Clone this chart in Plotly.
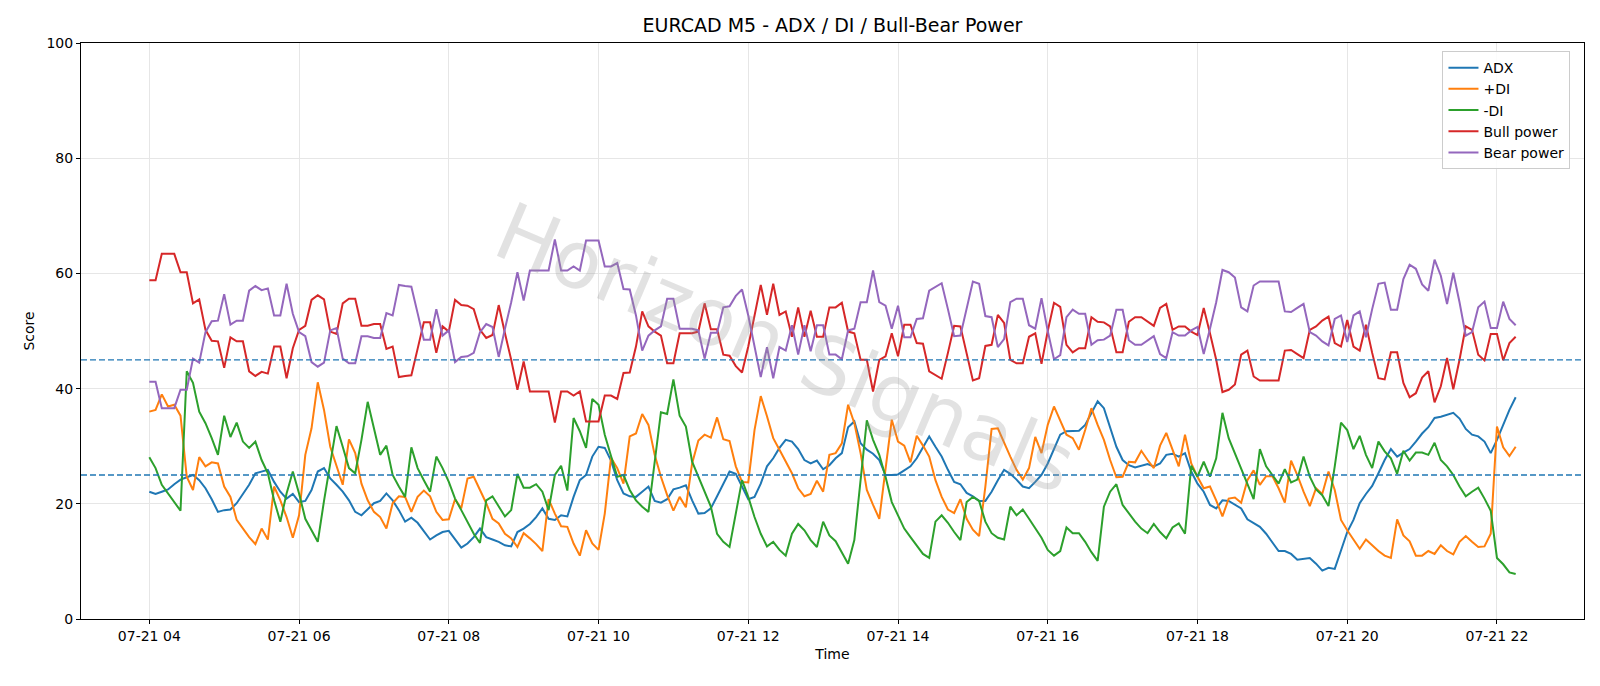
import pandas as pd
import plotly.graph_objects as go

TITLE = "EURCAD M5 - ADX / DI / Bull-Bear Power"
START = "2025-07-21 04:00"
N_BARS = 220
times = pd.date_range(START, periods=N_BARS, freq="5min")

adx = [22.1, 21.7, 22.1, 22.5, 23.4, 24.2, 24.6, 25.0, 24.1, 22.7,
       20.8, 18.6, 18.9, 19.0, 20.1, 21.7, 23.3, 25.3, 25.6, 25.9,
       23.8, 22.1, 20.9, 21.7, 20.3, 20.5, 22.4, 25.6, 26.2, 24.4,
       23.3, 22.1, 20.6, 18.6, 18.0, 19.0, 20.1, 20.5, 21.8, 20.6,
       18.9, 16.9, 17.6, 16.7, 15.3, 13.8, 14.5, 15.1, 15.3, 13.9,
       12.4, 13.1, 14.2, 15.7, 14.2, 13.8, 13.4, 12.8, 12.6, 15.1,
       15.7, 16.5, 17.7, 19.2, 17.4, 17.2, 18.0, 17.8, 21.2, 24.1,
       25.0, 28.2, 29.9, 29.7, 27.5, 24.1, 21.8, 21.3, 21.2, 22.1,
       23.0, 20.5, 20.2, 20.8, 22.5, 22.8, 23.2, 20.6, 18.3, 18.4,
       19.2, 21.3, 23.5, 25.6, 25.2, 23.0, 20.8, 21.2, 23.5, 26.5,
       27.9, 29.7, 31.1, 30.8, 29.5, 27.6, 27.0, 27.5, 26.0, 26.7,
       27.9, 28.8, 33.3, 34.3, 30.5, 29.4, 28.7, 27.6, 25.0, 25.0,
       25.1, 25.8, 26.5, 27.9, 29.9, 31.7, 29.9, 28.2, 25.9, 23.8,
       23.4, 21.9, 21.3, 20.5, 20.5, 22.1, 24.1, 25.9, 25.2, 24.2,
       23.0, 22.7, 23.8, 25.0, 27.0, 29.6, 32.0, 32.6, 32.7, 32.7,
       33.7, 35.8, 37.8, 36.6, 33.4, 29.9, 27.6, 26.7, 26.3, 26.6,
       26.9, 26.5, 27.0, 28.5, 28.7, 28.2, 28.8, 25.6, 23.5, 22.1,
       19.8, 19.2, 20.6, 20.5, 19.9, 19.2, 17.3, 16.6, 16.0, 14.8,
       13.4, 11.8, 11.8, 11.3, 10.3, 10.5, 10.6, 9.6, 8.4, 8.9,
       8.7, 11.9, 15.1, 17.2, 20.1, 21.7, 23.1, 25.3, 27.6, 29.5,
       28.2, 28.9, 29.5, 30.8, 32.2, 33.3, 34.9, 35.1, 35.5, 35.8,
       34.8, 33.0, 32.0, 31.7, 30.8, 28.8, 31.1, 33.7, 36.3, 38.5]

plus_di = [36.0, 36.3, 39.0, 36.9, 37.2, 35.3, 24.7, 22.4, 28.1, 26.5,
           27.2, 27.0, 23.0, 21.2, 17.2, 15.7, 14.2, 13.0, 15.7, 13.8,
           23.0, 20.6, 17.7, 14.1, 18.0, 28.5, 33.1, 41.1, 36.3, 29.9,
           26.5, 23.3, 31.2, 28.8, 23.5, 20.6, 18.6, 17.7, 15.7, 20.1,
           21.3, 21.2, 18.6, 21.2, 22.3, 21.3, 18.6, 17.2, 17.3, 20.8,
           19.2, 24.4, 24.7, 22.4, 20.1, 17.4, 16.6, 14.8, 14.0, 12.5,
           14.9, 14.0, 13.0, 11.8, 20.8, 18.3, 16.1, 16.0, 13.1, 11.0,
           15.4, 13.1, 12.0, 18.3, 28.0, 26.2, 23.5, 31.7, 32.2, 35.6,
           33.7, 28.5, 24.7, 21.5, 18.8, 21.2, 19.4, 27.0, 31.0, 32.0,
           31.5, 35.0, 31.2, 30.9, 26.5, 23.8, 23.7, 32.8, 38.7, 35.2,
           31.4, 29.4, 27.3, 25.3, 22.7, 21.3, 21.7, 24.0, 22.1, 28.5,
           28.8, 30.5, 37.2, 34.0, 28.8, 22.4, 19.8, 17.4, 26.0, 34.6,
           30.8, 30.1, 27.2, 31.8, 30.1, 28.2, 24.1, 21.2, 19.0, 18.4,
           20.8, 17.4, 15.5, 14.4, 23.0, 33.0, 33.1, 30.5, 28.2, 25.9,
           24.2, 26.2, 31.6, 28.8, 33.7, 36.9, 34.3, 32.0, 31.4, 29.4,
           32.8, 36.6, 33.7, 31.1, 27.6, 24.6, 24.7, 27.3, 27.2, 29.2,
           27.6, 26.2, 30.1, 32.3, 29.4, 26.5, 32.0, 27.0, 24.7, 22.7,
           23.0, 20.6, 17.8, 20.9, 21.1, 20.2, 24.1, 25.8, 23.3, 24.8,
           24.8, 22.7, 20.2, 27.5, 25.0, 22.1, 19.6, 22.7, 21.7, 25.6,
           22.4, 17.2, 15.4, 13.8, 12.2, 13.8, 12.8, 11.8, 11.0, 10.6,
           17.3, 14.5, 13.5, 11.0, 11.0, 11.8, 11.3, 12.8, 11.8, 11.2,
           13.4, 14.4, 13.4, 12.5, 12.6, 14.8, 33.4, 29.8, 28.3, 29.9]

minus_di = [28.1, 26.2, 23.3, 21.8, 20.1, 18.8, 43.0, 41.0, 36.0, 34.0,
            31.4, 28.5, 35.3, 31.6, 34.1, 30.8, 29.7, 30.8, 27.6, 25.3,
            20.6, 16.9, 21.8, 25.6, 21.8, 17.4, 15.4, 13.4, 20.5, 27.0,
            33.5, 29.9, 26.2, 25.3, 31.1, 37.7, 33.1, 28.5, 30.1, 25.0,
            23.0, 21.2, 29.8, 26.2, 24.1, 22.1, 28.2, 26.2, 23.8, 20.9,
            18.9, 16.9, 14.8, 13.2, 20.6, 21.3, 19.5, 17.8, 18.9, 25.2,
            22.8, 22.8, 23.4, 22.1, 18.9, 25.0, 26.6, 22.3, 34.9, 32.6,
            29.7, 38.2, 37.2, 32.0, 28.3, 24.7, 25.0, 22.4, 20.6, 19.5,
            18.6, 27.5, 35.9, 35.6, 41.6, 35.3, 33.4, 27.3, 24.7, 22.4,
            19.5, 14.8, 13.4, 12.5, 18.3, 24.1, 21.2, 17.7, 14.8, 12.6,
            13.4, 12.0, 11.0, 14.8, 16.5, 15.4, 13.7, 12.5, 16.9, 14.5,
            13.5, 11.6, 9.6, 13.7, 24.0, 34.5, 31.1, 28.5, 24.7, 20.3,
            18.0, 15.7, 14.2, 12.8, 11.3, 10.6, 16.9, 18.0, 16.7, 15.1,
            13.7, 20.3, 21.2, 20.5, 16.9, 14.9, 14.1, 13.8, 19.5, 18.0,
            19.0, 17.4, 15.7, 14.1, 12.0, 11.0, 11.8, 15.9, 14.9, 14.9,
            13.4, 11.6, 10.1, 19.5, 22.1, 23.4, 19.8, 18.3, 16.9, 15.7,
            14.9, 16.5, 15.1, 14.0, 15.9, 16.6, 14.8, 26.6, 24.7, 27.3,
            24.7, 27.9, 35.8, 31.4, 28.8, 26.2, 23.5, 20.8, 29.5, 26.5,
            25.0, 23.5, 26.0, 23.7, 24.2, 28.2, 24.7, 22.5, 21.5, 19.6,
            26.5, 34.1, 32.8, 29.5, 31.8, 28.5, 26.2, 30.8, 29.1, 27.9,
            25.2, 29.2, 27.5, 28.9, 28.9, 28.5, 30.6, 27.6, 26.5, 25.0,
            23.0, 21.3, 22.1, 22.8, 20.9, 18.8, 10.6, 9.5, 8.1, 7.8]

bull_power = [58.8, 58.8, 63.4, 63.4, 63.4, 60.2, 60.2, 54.8, 55.5, 50.2,
              48.3, 48.2, 43.6, 48.9, 48.2, 48.2, 43.0, 42.2, 42.9, 42.6,
              47.3, 47.3, 41.8, 47.0, 50.2, 50.9, 55.4, 56.2, 55.5, 49.9,
              49.5, 54.8, 55.6, 55.6, 50.9, 50.9, 51.2, 51.2, 46.9, 47.3,
              42.0, 42.2, 42.3, 46.9, 51.5, 51.5, 46.2, 50.8, 49.9, 55.4,
              54.5, 54.4, 53.8, 50.2, 48.8, 49.3, 54.5, 49.6, 45.0, 39.8,
              44.7, 39.5, 39.5, 39.5, 39.5, 34.1, 39.5, 39.5, 38.8, 39.5,
              34.3, 34.3, 34.3, 38.8, 38.8, 38.2, 42.7, 42.8, 47.3, 53.4,
              50.8, 49.9, 49.2, 44.4, 44.4, 49.6, 49.6, 49.6, 49.9, 54.8,
              50.3, 50.3, 45.9, 45.7, 43.9, 42.8, 47.3, 52.5, 58.0, 52.8,
              58.2, 52.8, 53.4, 49.0, 54.1, 49.0, 53.5, 49.0, 49.0, 54.1,
              54.1, 54.9, 49.9, 49.6, 45.0, 45.0, 39.5, 45.0, 45.6, 49.6,
              45.6, 51.1, 51.1, 47.9, 47.8, 43.0, 42.4, 41.7, 46.2, 50.9,
              50.8, 46.2, 41.4, 41.8, 47.4, 47.6, 52.8, 51.4, 45.0, 44.4,
              44.4, 49.0, 49.6, 44.3, 50.0, 54.9, 54.2, 47.6, 46.3, 47.0,
              47.0, 52.4, 51.6, 51.5, 50.8, 46.3, 46.3, 51.6, 52.4, 52.4,
              51.6, 50.9, 54.0, 54.7, 50.2, 50.8, 50.8, 49.9, 49.3, 54.0,
              49.6, 45.0, 39.4, 39.8, 40.7, 45.9, 46.6, 42.1, 41.4, 41.4,
              41.4, 41.4, 46.6, 46.7, 46.0, 45.3, 50.2, 50.8, 51.8, 52.5,
              47.9, 47.3, 51.9, 47.3, 46.6, 51.1, 46.2, 41.8, 41.6, 46.3,
              46.3, 41.0, 38.5, 39.2, 41.9, 43.0, 37.6, 40.4, 45.3, 39.9,
              45.0, 50.8, 50.2, 45.9, 44.9, 49.5, 49.5, 44.9, 47.9, 49.0]

bear_power = [41.2, 41.2, 36.6, 36.6, 36.6, 39.8, 39.8, 45.2, 44.5, 49.8,
              51.7, 51.8, 56.4, 51.1, 51.8, 51.8, 57.0, 57.8, 57.1, 57.4,
              52.7, 52.7, 58.2, 53.0, 49.8, 49.1, 44.6, 43.8, 44.5, 50.1,
              50.5, 45.2, 44.4, 44.4, 49.1, 49.1, 48.8, 48.8, 53.1, 52.7,
              58.0, 57.8, 57.7, 53.1, 48.5, 48.5, 53.8, 49.2, 50.1, 44.6,
              45.5, 45.6, 46.2, 49.8, 51.2, 50.7, 45.5, 50.4, 55.0, 60.2,
              55.3, 60.5, 60.5, 60.5, 60.5, 65.9, 60.5, 60.5, 61.2, 60.5,
              65.7, 65.7, 65.7, 61.2, 61.2, 61.8, 57.3, 57.2, 52.7, 46.6,
              49.2, 50.1, 50.8, 55.6, 55.6, 50.4, 50.4, 50.4, 50.1, 45.2,
              49.7, 49.7, 54.1, 54.3, 56.1, 57.2, 52.7, 47.5, 42.0, 47.2,
              41.8, 47.2, 46.6, 51.0, 45.9, 51.0, 46.5, 51.0, 51.0, 45.9,
              45.9, 45.1, 50.1, 50.4, 55.0, 55.0, 60.5, 55.0, 54.4, 50.4,
              54.4, 48.9, 48.9, 52.1, 52.2, 57.0, 57.6, 58.3, 53.8, 49.1,
              49.2, 53.8, 58.6, 58.2, 52.6, 52.4, 47.2, 48.6, 55.0, 55.6,
              55.6, 51.0, 50.4, 55.7, 50.0, 45.1, 45.8, 52.4, 53.7, 53.0,
              53.0, 47.6, 48.4, 48.5, 49.2, 53.7, 53.7, 48.4, 47.6, 47.6,
              48.4, 49.1, 46.0, 45.3, 49.8, 49.2, 49.2, 50.1, 50.7, 46.0,
              50.4, 55.0, 60.6, 60.2, 59.3, 54.1, 53.4, 57.9, 58.6, 58.6,
              58.6, 58.6, 53.4, 53.3, 54.0, 54.7, 49.8, 49.2, 48.2, 47.5,
              52.1, 52.7, 48.1, 52.7, 53.4, 48.9, 53.8, 58.2, 58.4, 53.7,
              53.7, 59.0, 61.5, 60.8, 58.1, 57.0, 62.4, 59.6, 54.7, 60.1,
              55.0, 49.2, 49.8, 54.1, 55.1, 50.5, 50.5, 55.1, 52.1, 51.0]

series = [
    ("ADX", adx, "#1f77b4"),
    ("+DI", plus_di, "#ff7f0e"),
    ("-DI", minus_di, "#2ca02c"),
    ("Bull power", bull_power, "#d62728"),
    ("Bear power", bear_power, "#9467bd"),
]
ref_levels = [25, 45]

FONT = "DejaVu Sans"

fig = go.Figure()

# watermark (drawn first, faint)
fig.add_annotation(text="Horizon Signals", xref="paper", yref="paper", x=0.469, y=0.47,
                   showarrow=False, textangle=23,
                   font=dict(family=FONT, size=80, color="rgba(150,150,150,0.28)"))

for name, vals, color in series:
    fig.add_trace(go.Scatter(x=times, y=vals, mode="lines", name=name,
                             line=dict(color=color, width=2)))

for lvl in ref_levels:
    fig.add_shape(type="line", xref="paper", x0=0, x1=1, yref="y", y0=lvl, y1=lvl,
                  line=dict(color="#1f77b4", width=1.3, dash="6px,3px"), layer="above")

span = times[-1] - times[0]
pad = span * 0.05
x_range = [times[0] - pad, times[-1] + pad]

axis_common = dict(showline=True, mirror=True, linecolor="black", linewidth=1,
                   ticks="outside", ticklen=4, tickcolor="black", tickwidth=1,
                   showgrid=True, gridcolor="#e6e6e6", gridwidth=1, zeroline=False,
                   tickfont=dict(family=FONT, size=14, color="black"))

fig.update_layout(
    width=1600, height=686,
    margin=dict(l=81, r=16, t=43, b=67),
    paper_bgcolor="white", plot_bgcolor="white",
    font=dict(family=FONT, size=14, color="black"),
    title=dict(text=TITLE, x=0.5, xref="paper", xanchor="center",
               y=1 - 25.5 / 686, yref="container", yanchor="middle",
               font=dict(family=FONT, size=19, color="black")),
    xaxis=dict(range=x_range, tickformat="%m-%d %H", dtick=2 * 3600 * 1000,
               tick0=START, title=dict(text="Time", standoff=6,
                                       font=dict(family=FONT, size=14)),
               **axis_common),
    yaxis=dict(range=[0, 100], dtick=20, title=dict(text="Score", standoff=8,
                                                    font=dict(family=FONT, size=14)),
               **axis_common),
    legend=dict(x=0.991, y=0.986, xanchor="right", yanchor="top",
                bgcolor="rgba(255,255,255,0.85)", bordercolor="#cccccc", borderwidth=1,
                font=dict(family=FONT, size=14)),
    showlegend=True,
)

fig.write_html("out.html")
